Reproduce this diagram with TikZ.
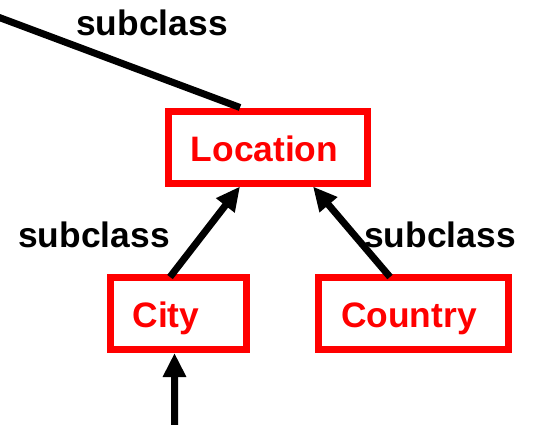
\documentclass[tikz,border=0pt]{standalone}
\usepackage{fontspec}
\setmainfont{Liberation Sans}
\usetikzlibrary{arrows.meta}
\begin{document}
\begin{tikzpicture}[x=1bp,y=-1bp,
  classbox/.style={draw=red, line width=7bp, text=red, font=\fontsize{35.5}{40}\selectfont\bfseries,
    minimum height=72bp, inner sep=0pt, text height=28bp, text depth=0bp},
  rellabel/.style={font=\fontsize{35.5}{40}\selectfont\bfseries, anchor=base, inner sep=0pt},
  link/.style={line width=7bp, draw=black},
  linkarrow/.style={link, -{Triangle[width=22bp,length=24bp]}}
]
\useasboundingbox (0,0) rectangle (546,424);

% class boxes (trailing space sets the text a little left of centre)
\node[classbox, minimum width=199bp] (loc) at (268,147) {Location\hspace*{7bp}};
\node[classbox, minimum width=136bp] (city) at (178.5,313.5) {City\hspace*{25bp}};
\node[classbox, minimum width=190bp] (country) at (413.5,313.5) {Country\hspace*{9bp}};

% relation labels
\node[rellabel] (lblTop) at (152,35) {subclass};
\node[rellabel] (lblCity) at (94,247) {subclass};
\node[rellabel] (lblCountry) at (440,247) {subclass};

% loose ends of connectors leaving the picture
\coordinate (parentEnd) at (-10,14);
\coordinate (childEnd) at (174.5,430);

% connectors
\draw[link] (parentEnd) -- ([xshift=-28bp]loc.north);
\draw[linkarrow] ([xshift=-8.5bp,yshift=-3bp]city.north) -- ([xshift=-28bp]loc.south);
\draw[linkarrow] ([xshift=-23.5bp,yshift=-3bp]country.north) -- ([xshift=45bp]loc.south);
\draw[linkarrow] (childEnd) -- ([xshift=-4bp]city.south);
\end{tikzpicture}
\end{document}
